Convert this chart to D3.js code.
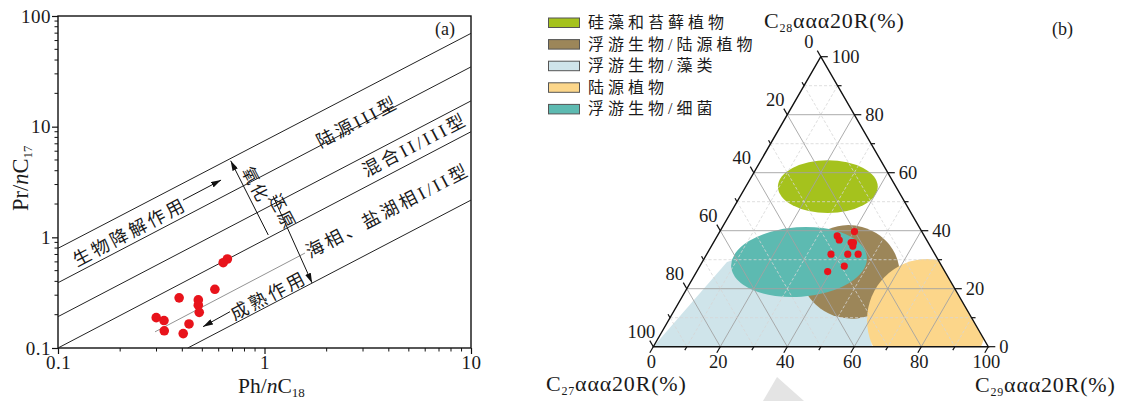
<!DOCTYPE html>
<html>
<head>
<meta charset="utf-8">
<script src="https://cdn.jsdelivr.net/npm/d3@7"></script>
<style>
  body { margin: 0; background: #fff; }
  svg { display: block; }
  text { font-family: "Liberation Serif", "Noto Sans CJK SC", serif; fill: #1a1a1a; }
</style>
</head>
<body>
<svg id="chart" width="1126" height="401"></svg>
<script>
// ---------- (a) Pr/nC17 vs Ph/nC18 ----------
const phC18 = [0.661, 0.631, 0.575, 0.386, 0.478, 0.478, 0.483, 0.299, 0.326, 0.431, 0.327, 0.404];
const prC17 = [0.637, 0.590, 0.339, 0.284, 0.272, 0.244, 0.210, 0.188, 0.177, 0.165, 0.143, 0.135];
const xTicksA = [0.1, 1, 10];
const yTicksA = [0.1, 1, 10, 100];

// environment boundary lines (start / end in data units)
const boundX0 = [0.1, 0.1, 0.1, 0.1, 0.425];
const boundY0 = [0.796, 0.389, 0.192, 0.1, 0.1];
const boundX1 = [10, 10, 10, 10, 10];
const boundY1 = [69.7, 34.7, 17.1, 9.0, 2.17];
// thin guide line through the marine / saline-lake field
const guideX = [0.295, 1.57];
const guideY = [0.140, 0.721];

// field labels drawn along the boundary direction
const fieldText = ["陆源III型", "混合II/III型", "海相、盐湖相I/II型", "生物降解作用", "成熟作用"];
const fieldX = [2.82, 5.36, 3.96, 0.223, 1.05];
const fieldY = [11.0, 6.82, 1.73, 1.105, 0.295];
// trend arrows [x0,y0] -> [x1,y1]
const arrowX0 = [0.403, 1.043, 1.10, 0.681];
const arrowY0 = [2.17, 1.05, 2.36, 0.213];
const arrowX1 = [0.616, 0.686, 1.70, 0.504];
const arrowY1 = [3.29, 4.92, 0.387, 0.156];
// redox labels drawn across the boundaries
const redoxText = ["氧化", "还原"];
const redoxX = [0.90, 1.215];
const redoxY = [2.97, 1.69];

// ---------- (b) sterane ternary ----------
const sampleC27 = [20.1, 26.0, 26.1, 23.0, 22.3, 23.1, 31.0, 26.0, 22.9, 29.1, 35.0];
const sampleC28 = [39.7, 38.2, 36.8, 35.9, 35.9, 34.7, 31.9, 31.9, 31.9, 27.8, 25.9];
const sampleC29 = [40.2, 35.8, 37.1, 41.1, 41.8, 42.2, 37.1, 42.1, 45.2, 43.1, 39.1];
const ternTicks = [0, 20, 40, 60, 80, 100];

const regionNames = ["硅藻和苔藓植物", "浮游生物/陆源植物", "浮游生物/藻类", "陆源植物", "浮游生物/细菌"];
const regionColors = ["#a5c21d", "#9c8659", "#cfe4ea", "#fcd68a", "#5dbab1"];
// elliptical fields: centre (C27, C28, C29 %), semi-axes (% of side), tilt (deg)
const ellName = ["浮游生物/陆源植物", "陆源植物", "浮游生物/细菌", "硅藻和苔藓植物"];
const ellC27 = [28.4, 13.7, 41.9, 20.3];
const ellC28 = [25.8, 9.2, 29.2, 55.2];
const ellC29 = [45.8, 77.1, 28.9, 24.5];
const ellRx = [14.9, 17.9, 20.3, 14.9];
const ellRy = [13.9, 18.2, 10.4, 7.9];
const ellRot = [15, 0, -4, 0];
// plankton / algae field outline
const algaeC27 = [100, 63.4, 37.4, 23.1, 34.7];
const algaeC28 = [0, 29.2, 37.5, 29.2, 0];
const algaeC29 = [0, 7.4, 25.1, 47.7, 65.3];

const svg = d3.select("#chart");
svg.append("rect").attr("width", 1126).attr("height", 401).attr("fill", "#fff");

const defs = svg.append("defs");
defs.append("marker").attr("id", "head")
  .attr("viewBox", "0 0 10 6").attr("refX", 10).attr("refY", 3)
  .attr("markerWidth", 10).attr("markerHeight", 6)
  .attr("markerUnits", "userSpaceOnUse").attr("orient", "auto")
  .append("path").attr("d", "M0,0 L10,3 L0,6 Z").attr("fill", "#111");

// ================= panel (a) =================
const xA = d3.scaleLog().domain([0.1, 10]).range([58, 471]);
const yA = d3.scaleLog().domain([0.1, 100]).range([348, 16]);
const gA = svg.append("g");

// minor ticks
const minorX = [], minorY = [];
[0.1, 1].forEach(d => { for (let k = 2; k <= 9; k++) minorX.push(d * k); });
[0.1, 1, 10].forEach(d => { for (let k = 2; k <= 9; k++) minorY.push(d * k); });
gA.selectAll(".mx").data(minorX).join("line")
  .attr("x1", d => xA(d)).attr("x2", d => xA(d))
  .attr("y1", yA(0.1)).attr("y2", yA(0.1) + 3.5)
  .attr("stroke", "#111").attr("stroke-width", 1);
gA.selectAll(".my").data(minorY).join("line")
  .attr("y1", d => yA(d)).attr("y2", d => yA(d))
  .attr("x1", xA(0.1)).attr("x2", xA(0.1) - 3.5)
  .attr("stroke", "#111").attr("stroke-width", 1);

const fmt = d => (d < 1 ? "0.1" : String(d));
const axB = gA.append("g").attr("transform", `translate(0,${yA(0.1)})`)
  .call(d3.axisBottom(xA).tickValues(xTicksA).tickFormat(fmt).tickSize(6).tickPadding(2));
const axL = gA.append("g").attr("transform", `translate(${xA(0.1)},0)`)
  .call(d3.axisLeft(yA).tickValues(yTicksA).tickFormat(fmt).tickSize(6).tickPadding(1));
[axB, axL].forEach(a => {
  a.select(".domain").remove();
  a.selectAll("line").attr("stroke", "#111").attr("stroke-width", 1.2);
  a.selectAll("text").attr("font-family", "Liberation Serif").attr("font-size", 19)
    .attr("letter-spacing", 0.5).attr("fill", "#1a1a1a");
});
gA.append("rect").attr("x", xA(0.1)).attr("y", yA(100))
  .attr("width", xA(10) - xA(0.1)).attr("height", yA(0.1) - yA(100))
  .attr("fill", "none").attr("stroke", "#111").attr("stroke-width", 1.4);

// boundary lines
gA.selectAll(".bnd").data(boundX0).join("line")
  .attr("x1", (d, i) => xA(boundX0[i])).attr("y1", (d, i) => yA(boundY0[i]))
  .attr("x2", (d, i) => xA(boundX1[i])).attr("y2", (d, i) => yA(boundY1[i]))
  .attr("stroke", "#222").attr("stroke-width", 1);
gA.append("line")
  .attr("x1", xA(guideX[0])).attr("y1", yA(guideY[0]))
  .attr("x2", xA(guideX[1])).attr("y2", yA(guideY[1]))
  .attr("stroke", "#777").attr("stroke-width", 0.8);

const ang = Math.atan2(yA(boundY1[3]) - yA(boundY0[3]), xA(boundX1[3]) - xA(boundX0[3])) * 180 / Math.PI;

gA.selectAll(".fld").data(fieldText).join("text")
  .attr("transform", (d, i) => `translate(${xA(fieldX[i])},${yA(fieldY[i])}) rotate(${ang})`)
  .attr("text-anchor", "middle").attr("dominant-baseline", "central")
  .attr("font-size", 18).attr("letter-spacing", 3)
  .text(d => d);

gA.selectAll(".rdx").data(redoxText).join("text")
  .attr("transform", (d, i) => `translate(${xA(redoxX[i])},${yA(redoxY[i])}) rotate(${ang + 90})`)
  .attr("text-anchor", "middle").attr("dominant-baseline", "central")
  .attr("font-size", 17).attr("letter-spacing", 2)
  .text(d => d);

gA.selectAll(".arr").data(arrowX0).join("line")
  .attr("x1", (d, i) => xA(arrowX0[i])).attr("y1", (d, i) => yA(arrowY0[i]))
  .attr("x2", (d, i) => xA(arrowX1[i])).attr("y2", (d, i) => yA(arrowY1[i]))
  .attr("stroke", "#111").attr("stroke-width", 1)
  .attr("marker-end", "url(#head)");

gA.selectAll(".pt").data(phC18).join("circle")
  .attr("cx", d => xA(d)).attr("cy", (d, i) => yA(prC17[i]))
  .attr("r", 4.8).attr("fill", "#e8131b");

gA.append("text").attr("x", 455).attr("y", 35).attr("text-anchor", "end")
  .attr("font-size", 18).text("(a)");

// axis titles
const xt = gA.append("text").attr("x", 238).attr("y", 393).attr("font-size", 21.5);
xt.append("tspan").text("Ph/");
xt.append("tspan").attr("font-style", "italic").text("n");
xt.append("tspan").text("C");
xt.append("tspan").attr("font-size", 13).attr("dy", 4).text("18");
const yt = gA.append("text").attr("transform", "translate(28,211) rotate(-90)").attr("font-size", 22.5);
yt.append("tspan").text("Pr/");
yt.append("tspan").attr("font-style", "italic").text("n");
yt.append("tspan").text("C");
yt.append("tspan").attr("font-size", 13).attr("dy", 4).text("17");

// ================= panel (b) =================
const xT = d3.scaleLinear().domain([0, 100]).range([653.3, 988.3]);
const yT = d3.scaleLinear().domain([0, 100]).range([346.7, 56.7]);
const sidePx = xT(100) - xT(0);
function tern(a, b, c) {
  const s = a + b + c;
  const b2 = b / s * 100, c2 = c / s * 100;
  return [xT(c2 + b2 / 2), yT(b2)];
}
const gB = svg.append("g");
const triPts = [tern(100, 0, 0), tern(0, 0, 100), tern(0, 100, 0)];
defs.append("clipPath").attr("id", "tri")
  .append("polygon").attr("points", triPts.map(p => p.join(",")).join(" "));

const gF = gB.append("g").attr("clip-path", "url(#tri)");
gF.append("polygon")
  .attr("points", algaeC27.map((d, i) => tern(d, algaeC28[i], algaeC29[i]).join(",")).join(" "))
  .attr("fill", regionColors[regionNames.indexOf("浮游生物/藻类")]);
gF.selectAll(".ell").data(ellName).join("ellipse")
  .attr("cx", 0).attr("cy", 0)
  .attr("rx", (d, i) => ellRx[i] / 100 * sidePx)
  .attr("ry", (d, i) => ellRy[i] / 100 * sidePx)
  .attr("transform", (d, i) => {
    const p = tern(ellC27[i], ellC28[i], ellC29[i]);
    return `translate(${p[0]},${p[1]}) rotate(${ellRot[i]})`;
  })
  .attr("fill", d => regionColors[regionNames.indexOf(d)]);

// grid
const gridVals = d3.range(10, 100, 10);
const gG = gB.append("g");
gridVals.forEach(v => {
  const major = v % 20 === 0;
  const segs = [
    [tern(100 - v, v, 0), tern(0, v, 100 - v)],
    [tern(v, 100 - v, 0), tern(v, 0, 100 - v)],
    [tern(0, 100 - v, v), tern(100 - v, 0, v)]
  ];
  segs.forEach(s => {
    gG.append("line")
      .attr("x1", s[0][0]).attr("y1", s[0][1]).attr("x2", s[1][0]).attr("y2", s[1][1])
      .attr("stroke", major ? "#a3a3a3" : "#d6d6d6")
      .attr("stroke-width", major ? 0.9 : 0.8)
      .attr("stroke-dasharray", major ? null : "3,2");
  });
});

gB.append("polygon").attr("points", triPts.map(p => p.join(",")).join(" "))
  .attr("fill", "none").attr("stroke", "#111").attr("stroke-width", 1.4)
  .attr("stroke-linejoin", "miter");

// ticks and tick labels
const tickVals = d3.range(0, 101, 10);
const s3 = Math.sqrt(3) / 2;
tickVals.forEach(v => {
  const len = v % 20 === 0 ? 7 : 4;
  // bottom: C29
  let p = tern(100 - v, 0, v);
  gB.append("line").attr("x1", p[0]).attr("y1", p[1])
    .attr("x2", p[0] - 0.5 * len).attr("y2", p[1] + s3 * len)
    .attr("stroke", "#111").attr("stroke-width", 1.2);
  // right: C28
  p = tern(0, v, 100 - v);
  gB.append("line").attr("x1", p[0]).attr("y1", p[1])
    .attr("x2", p[0] + len).attr("y2", p[1])
    .attr("stroke", "#111").attr("stroke-width", 1.2);
  // left: C27
  p = tern(v, 100 - v, 0);
  gB.append("line").attr("x1", p[0]).attr("y1", p[1])
    .attr("x2", p[0] - 0.5 * len).attr("y2", p[1] - s3 * len)
    .attr("stroke", "#111").attr("stroke-width", 1.2);
});
gB.selectAll(".tb").data(ternTicks).join("text")
  .attr("x", d => tern(100 - d, 0, d)[0] - 2).attr("y", d => tern(100 - d, 0, d)[1] + 21)
  .attr("text-anchor", "middle").attr("font-size", 18.5).text(d => d);
gB.selectAll(".tr").data(ternTicks).join("text")
  .attr("x", d => tern(0, d, 100 - d)[0] + 11).attr("y", d => tern(0, d, 100 - d)[1] + 6)
  .attr("text-anchor", "start").attr("font-size", 18.5).text(d => d);
gB.selectAll(".tl").data(ternTicks).join("text")
  .attr("x", d => tern(d, 100 - d, 0)[0] - 12).attr("y", d => tern(d, 100 - d, 0)[1] - 9)
  .attr("text-anchor", "middle").attr("font-size", 18.5).text(d => d);

// samples
gB.selectAll(".sp").data(sampleC27).join("circle")
  .attr("cx", (d, i) => tern(d, sampleC28[i], sampleC29[i])[0])
  .attr("cy", (d, i) => tern(d, sampleC28[i], sampleC29[i])[1])
  .attr("r", 3.6).attr("fill", "#e8131b");

// axis titles
function steraneTitle(x, y, sub) {
  const t = gB.append("text").attr("x", x).attr("y", y).attr("font-size", 22).attr("letter-spacing", 0.8);
  t.append("tspan").text("C");
  t.append("tspan").attr("font-size", 12).attr("dy", 4).text(sub);
  t.append("tspan").attr("dy", -4).text("ααα20R(%)");
}
steraneTitle(764, 28, "28");
steraneTitle(546, 391, "27");
steraneTitle(975, 392, "29");
gB.append("text").attr("x", 1073).attr("y", 35).attr("text-anchor", "end")
  .attr("font-size", 18).text("(b)");

// legend
const lg = gB.append("g");
regionNames.forEach((name, i) => {
  const y = 22.5 + i * 21.6;
  lg.append("rect").attr("x", 548.5).attr("y", y - 4.5).attr("width", 31).attr("height", 9.5)
    .attr("fill", regionColors[i]).attr("stroke", "#555").attr("stroke-width", 1);
  lg.append("text").attr("x", 588).attr("y", y).attr("dominant-baseline", "central")
    .attr("font-size", 16).attr("letter-spacing", 4).text(name);
});

// faint page mark at the bottom
svg.append("polygon").attr("points", "777,377 804,401 763,401").attr("fill", "#e4e4e4");
</script>
</body>
</html>
